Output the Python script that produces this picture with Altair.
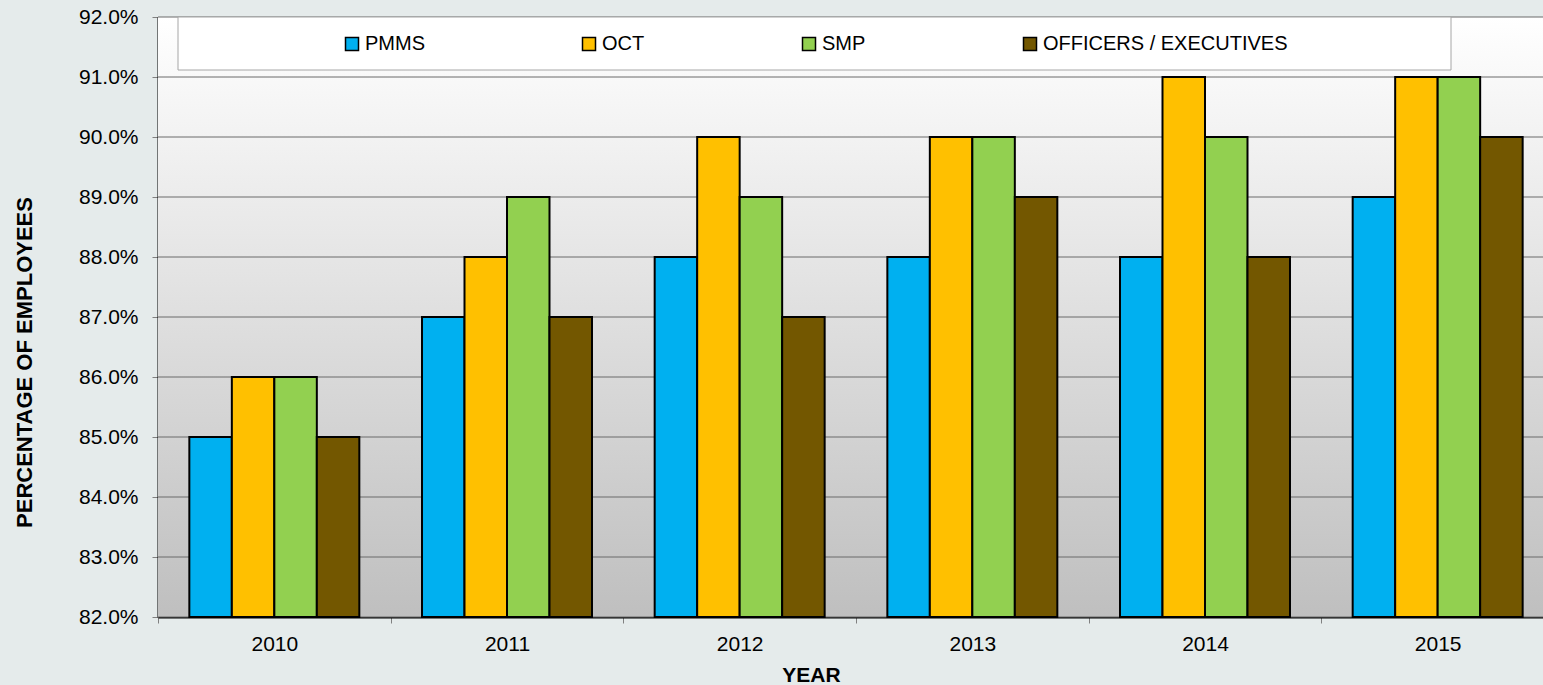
import altair as alt
import pandas as pd

years = ["2010", "2011", "2012", "2013", "2014", "2015"]
series = ["PMMS", "OCT", "SMP", "OFFICERS / EXECUTIVES"]
colors = ["#00B0F0", "#FFC000", "#92D050", "#735700"]
pmms = [0.85, 0.87, 0.88, 0.88, 0.88, 0.89]
oct_ = [0.86, 0.88, 0.90, 0.90, 0.91, 0.91]
smp = [0.86, 0.89, 0.89, 0.90, 0.90, 0.91]
officers = [0.85, 0.87, 0.87, 0.89, 0.88, 0.90]
y_ticks = [0.82, 0.83, 0.84, 0.85, 0.86, 0.87, 0.88, 0.89, 0.90, 0.91, 0.92]

rows = []
for name, vals in zip(series, [pmms, oct_, smp, officers]):
    for yr, v in zip(years, vals):
        rows.append({"year": yr, "series": name, "value": v})
df = pd.DataFrame(rows)
grid_df = pd.DataFrame({"v": y_ticks})
one = pd.DataFrame({"a": [0]})

FONT = "Liberation Sans"
W, H = 1385, 600

yscale = alt.Scale(domain=[0.82, 0.92], zero=False, nice=False)
yaxis = alt.Axis(
    format=".1%", values=y_ticks, grid=False,
    labelFont=FONT, labelFontSize=21, labelColor="#000000", labelPadding=14,
    tickColor="#808080", tickSize=6, tickWidth=1,
    domainColor="#000000", domainWidth=2,
    title="PERCENTAGE OF EMPLOYEES", titleFont=FONT, titleFontSize=22,
    titleFontWeight="bold", titleColor="#000000", titleAngle=270,
    titleAlign="center", titleBaseline="middle", titleX=-134, titleY=345,
)

bg = alt.Chart(one).mark_rect(
    fill=alt.LinearGradient(
        gradient="linear", x1=0, x2=0, y1=0, y2=1,
        stops=[alt.GradientStop(color="#FFFFFF", offset=0),
               alt.GradientStop(color="#BFBFBF", offset=1)],
    )
).encode(x=alt.value(0), x2=alt.value(W), y=alt.value(0), y2=alt.value(H))

grid = alt.Chart(grid_df).mark_rule(color="#6A6A6A", strokeWidth=1).encode(
    y=alt.Y("v:Q", scale=yscale, axis=yaxis)
)

bars = alt.Chart(df).mark_bar(stroke="#000000", strokeWidth=2, opacity=1).encode(
    x=alt.X("year:N", sort=years,
            scale=alt.Scale(range=[0, 1396], paddingInner=0, paddingOuter=0),
            axis=alt.Axis(
                labelAngle=0, tickBand="extent", labelFont=FONT, labelFontSize=21,
                labelColor="#000000", labelPadding=10,
                tickColor="#808080", tickSize=6, tickWidth=1,
                domainColor="#000000", domainWidth=2,
                title="YEAR", titleFont=FONT, titleFontSize=21, titleFontWeight="bold",
                titleColor="#000000", titleX=653, titleY=64, titleBaseline="alphabetic",
                titleAnchor="start", titleAlign="center",
            )),
    xOffset=alt.XOffset("series:N", sort=series,
                        scale=alt.Scale(domain=series, paddingInner=0, paddingOuter=0.7375)),
    y=alt.Y("value:Q", scale=yscale, axis=yaxis, stack=None),
    y2=alt.datum(0.82),
    color=alt.Color(
        "series:N", sort=series,
        scale=alt.Scale(domain=series, range=colors),
        legend=alt.Legend(
            orient="none", legendX=184, legendY=17, direction="horizontal",
            title=None, symbolType="square", symbolSize=169,
            symbolStrokeColor="#000000", symbolStrokeWidth=1.5,
            labelFont=FONT, labelFontSize=20, labelColor="#000000", labelLimit=0,
            columnPadding=154, labelOffset=3, padding=0, symbolOpacity=1,
        ),
    ),
)

box = alt.Chart(one).mark_rect(fill="#FFFFFF", stroke="#A6A6A6", strokeWidth=1).encode(
    x=alt.value(20), x2=alt.value(1293), y=alt.value(0), y2=alt.value(53)
)

chart = alt.layer(bg, grid, bars, box).properties(
    width=W, height=H,
    background="#E5EBEB",
    padding={"left": 158, "top": 17, "right": 0, "bottom": 68},
    autosize=alt.AutoSizeParams(type="none"),
).configure_view(strokeWidth=0)

chart.save("out.html", embed_options={"renderer": "svg", "actions": False})
